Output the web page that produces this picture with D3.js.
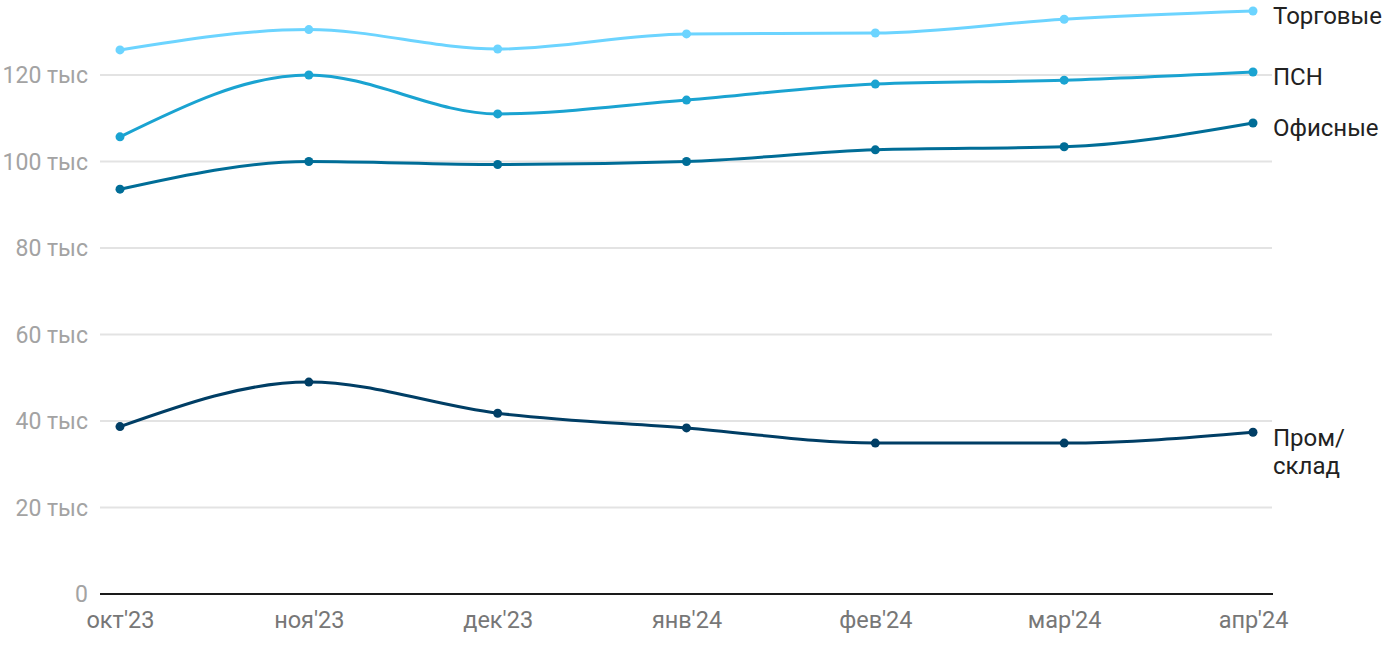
<!DOCTYPE html>
<html><head><meta charset="utf-8">
<script src="https://cdn.jsdelivr.net/npm/d3@7"></script>
<style>body{margin:0;background:#fff;font-family:Roboto,"Noto Sans",sans-serif}</style>
</head><body><svg id="c" width="1400" height="650"></svg>
<script>
const months = ["окт'23","ноя'23","дек'23","янв'24","фев'24","мар'24","апр'24"];
const yTicks = [0,20000,40000,60000,80000,100000,120000];
const seriesNames = ["Торговые","ПСН","Офисные","Пром/склад"];
const torgovye = [125800,130500,126000,129500,129700,132900,134800];
const psn = [105700,120000,111000,114200,117900,118800,120700];
const ofisnye = [93600,100000,99300,100000,102700,103400,108900];
const promsklad = [38700,49000,41800,38400,34900,34900,37400];
const colors = ["#6cd4ff","#1aa3d1","#006d97","#003e65"];

const svg = d3.select("#c");
const x = d3.scalePoint().domain(months).range([120,1253]);
const y = d3.scaleLinear().domain([0,120000]).range([594,75]);

// grid
svg.append("g").selectAll("line").data(yTicks.filter(d=>d>0)).join("line")
  .attr("x1",100).attr("x2",1272).attr("y1",d=>y(d)).attr("y2",d=>y(d))
  .attr("stroke","#e3e3e3").attr("stroke-width",2);
svg.append("g").selectAll("text").data(yTicks).join("text")
  .attr("x",88).attr("y",d=>y(d)).attr("dy","0.35em").attr("text-anchor","end")
  .attr("fill","#a3a3a3").attr("font-size",23)
  .text(d=>d===0?"0":(d/1000)+" тыс");
svg.append("line").attr("x1",100).attr("x2",1273).attr("y1",y(0)).attr("y2",y(0))
  .attr("stroke","#1a1a1a").attr("stroke-width",2);

// x axis labels
const xa = svg.append("g").attr("transform","translate(0,611)")
  .call(d3.axisBottom(x).tickSize(0).tickPadding(0));
xa.select(".domain").remove();
xa.selectAll("text").attr("font-size",23.5).attr("fill","#777").attr("font-family","Roboto").attr("dy","0.71em");

const data = [torgovye,psn,ofisnye,promsklad];
const line = d3.line().x((d,i)=>x(months[i])).y(d=>y(d)).curve(d3.curveMonotoneX);
data.slice().reverse().forEach((s,ri)=>{
  const k = data.length-1-ri;
  svg.append("path").attr("d",line(s)).attr("fill","none").attr("stroke",colors[k]).attr("stroke-width",3);
  svg.append("g").selectAll("circle").data(s).join("circle")
    .attr("cx",(d,i)=>x(months[i])).attr("cy",d=>y(d)).attr("r",4.5).attr("fill",colors[k]);
});

// labels
const lab = svg.append("g").attr("font-size",24).attr("fill","#222");
const lastI = months.length-1;
[0,1,2].forEach(k=>{
  lab.append("text").attr("x",1273).attr("y",y(data[k][lastI])+5).attr("dy","0.35em").text(seriesNames[k]);
});
const pl = lab.append("text").attr("x",1273).attr("y",y(promsklad[lastI])+5).attr("dy","0.35em");
pl.append("tspan").attr("x",1273).text("Пром/");
pl.append("tspan").attr("x",1273).attr("dy","1.2em").text("склад");
</script></body></html>
